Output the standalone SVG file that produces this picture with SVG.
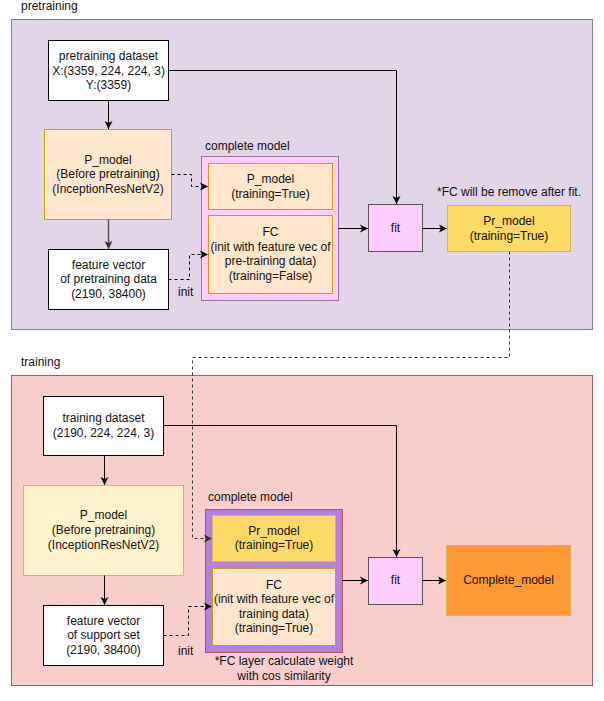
<svg xmlns="http://www.w3.org/2000/svg" width="604" height="701" viewBox="0 0 604 701">
<style>
text{font-family:"Liberation Sans",Arial,sans-serif;font-size:12px;fill:#111;}
.c{text-anchor:middle;}
.ln{fill:none;stroke:#000;stroke-width:1;}
.dash{fill:none;stroke:#000;stroke-width:1;stroke-dasharray:3,3;}
</style>
<defs>
<marker id="ah" markerWidth="10" markerHeight="10" refX="9" refY="5" orient="auto" markerUnits="userSpaceOnUse">
<path d="M1,1 L9,5 L1,9 L3,5 Z" fill="#000"/>
</marker>
<marker id="ahg" markerWidth="10" markerHeight="10" refX="9" refY="5" orient="auto" markerUnits="userSpaceOnUse">
<path d="M1,1 L9,5 L1,9 L3,5 Z" fill="#333"/>
</marker>
</defs>

<g id="pretraining">
<rect x="11.5" y="19.5" width="581" height="310" fill="#e1d5e7" stroke="#9673a6"/>
<text x="21" y="10">pretraining</text>
</g>
<g id="training">
<rect x="11.5" y="375.5" width="581" height="310" fill="#f8cecc" stroke="#b85450"/>
<text x="21" y="366">training</text>
</g>

<g id="pre-dataset">
<rect x="48.5" y="40.5" width="120" height="60" fill="#fff" stroke="#000"/>
<text class="c" x="108.5" y="60">pretraining dataset</text>
<text class="c" x="108.5" y="75">X:(3359, 224, 224, 3)</text>
<text class="c" x="108.5" y="89">Y:(3359)</text>
</g>
<g id="pre-pmodel">
<rect x="44.5" y="129.5" width="127" height="90" fill="#ffe6cc" stroke="#d79b00"/>
<text class="c" x="108" y="164">P_model</text>
<text class="c" x="108" y="178">(Before pretraining)</text>
<text class="c" x="108" y="193">(InceptionResNetV2)</text>
</g>
<g id="pre-feature">
<rect x="48.5" y="249.5" width="120" height="60" fill="#fff" stroke="#000"/>
<text class="c" x="108.5" y="269">feature vector</text>
<text class="c" x="108.5" y="283">of pretraining data</text>
<text class="c" x="108.5" y="298">(2190, 38400)</text>
</g>
<g id="pre-complete">
<rect x="201.5" y="156.5" width="137" height="144" fill="#ffccff" stroke="#9673a6"/>
<text x="205" y="150">complete model</text>
<rect x="208.5" y="163.5" width="124" height="46" fill="#ffe6cc" stroke="#d79b00"/>
<text class="c" x="270.5" y="183">P_model</text>
<text class="c" x="270.5" y="198">(training=True)</text>
<rect x="208.5" y="215.5" width="124" height="78" fill="#ffe6cc" stroke="#d79b00"/>
<text class="c" x="270.5" y="236">FC</text>
<text class="c" x="270.5" y="251">(init with feature vec of</text>
<text class="c" x="270.5" y="265">pre-training data)</text>
<text class="c" x="270.5" y="280">(training=False)</text>
</g>
<g id="pre-fit">
<rect x="368.5" y="204.5" width="54" height="47" fill="#ffccff" stroke="#555"/>
<text class="c" x="395.5" y="232">fit</text>
</g>
<g id="pre-prmodel">
<rect x="447.5" y="205.5" width="123" height="46" fill="#ffd966" stroke="#d6b656"/>
<text class="c" x="509" y="225">Pr_model</text>
<text class="c" x="509" y="240">(training=True)</text>
<text class="c" x="509" y="196">*FC will be remove after fit.</text>
</g>

<g id="tr-dataset">
<rect x="43.5" y="396.5" width="120" height="59" fill="#fff" stroke="#000"/>
<text class="c" x="103.5" y="422">training dataset</text>
<text class="c" x="103.5" y="437">(2190, 224, 224, 3)</text>
</g>
<g id="tr-pmodel">
<rect x="23.5" y="485.5" width="160" height="90" fill="#fff2cc" stroke="#d6b656"/>
<text class="c" x="103.5" y="519">P_model</text>
<text class="c" x="103.5" y="534">(Before pretraining)</text>
<text class="c" x="103.5" y="549">(InceptionResNetV2)</text>
</g>
<g id="tr-feature">
<rect x="43.5" y="605.5" width="120" height="60" fill="#fff" stroke="#000"/>
<text class="c" x="103.5" y="625">feature vector</text>
<text class="c" x="103.5" y="639">of support set</text>
<text class="c" x="103.5" y="654">(2190, 38400)</text>
</g>
<g id="tr-complete">
<rect x="205.5" y="509.5" width="137" height="143" fill="#b381e5" stroke="#b85450"/>
<text x="208" y="501">complete model</text>
<rect x="212.5" y="515.5" width="123" height="46" fill="#ffd966" stroke="#d6b656"/>
<text class="c" x="274" y="535">Pr_model</text>
<text class="c" x="274" y="549">(training=True)</text>
<rect x="212.5" y="568.5" width="123" height="77" fill="#ffe6cc" stroke="#d79b00"/>
<text class="c" x="274" y="589">FC</text>
<text class="c" x="274" y="603">(init with feature vec of</text>
<text class="c" x="274" y="618">training data)</text>
<text class="c" x="274" y="632">(training=True)</text>
<text class="c" x="284" y="665">*FC layer calculate weight</text>
<text class="c" x="284" y="680">with cos similarity</text>
</g>
<g id="tr-fit">
<rect x="368.5" y="557.5" width="54" height="47" fill="#ffccff" stroke="#555"/>
<text class="c" x="395.5" y="584">fit</text>
</g>
<g id="tr-completemodel">
<rect x="446.5" y="545.5" width="124" height="70" fill="#ff9933" stroke="#d6b656"/>
<text class="c" x="508.5" y="584">Complete_model</text>
</g>

<g id="connectors">
<path class="ln" d="M108.5,100.5 V129" marker-end="url(#ah)"/>
<path d="M108.5,219.5 V249" fill="none" stroke="#555" stroke-width="1.5" marker-end="url(#ahg)"/>
<path class="dash" d="M171.5,174.5 H191.5 V186.5 H208" marker-end="url(#ah)"/>
<path class="dash" d="M168.5,279.5 H189.5 V254.5 H208" marker-end="url(#ah)"/>
<text x="178" y="296">init</text>
<path class="ln" d="M168.5,70.5 H396.5 V204" marker-end="url(#ah)"/>
<path class="ln" d="M338.5,228.5 H368" marker-end="url(#ah)"/>
<path class="ln" d="M422.5,228.5 H447" marker-end="url(#ah)"/>
<path d="M509.5,251.5 V357.5 H192.5 V538.5 H212" fill="none" stroke="#333" stroke-dasharray="3,3" marker-end="url(#ahg)"/>

<path class="ln" d="M104.5,455.5 V485" marker-end="url(#ah)"/>
<path class="ln" d="M104.5,575.5 V605" marker-end="url(#ah)"/>
<path class="dash" d="M163.5,635.5 H188.5 V606.5 H212" marker-end="url(#ah)"/>
<text x="178" y="655">init</text>
<path class="ln" d="M163.5,425.5 H396.5 V557" marker-end="url(#ah)"/>
<path class="ln" d="M342.5,580.5 H368" marker-end="url(#ah)"/>
<path class="ln" d="M422.5,580.5 H446" marker-end="url(#ah)"/>
</g>
</svg>
